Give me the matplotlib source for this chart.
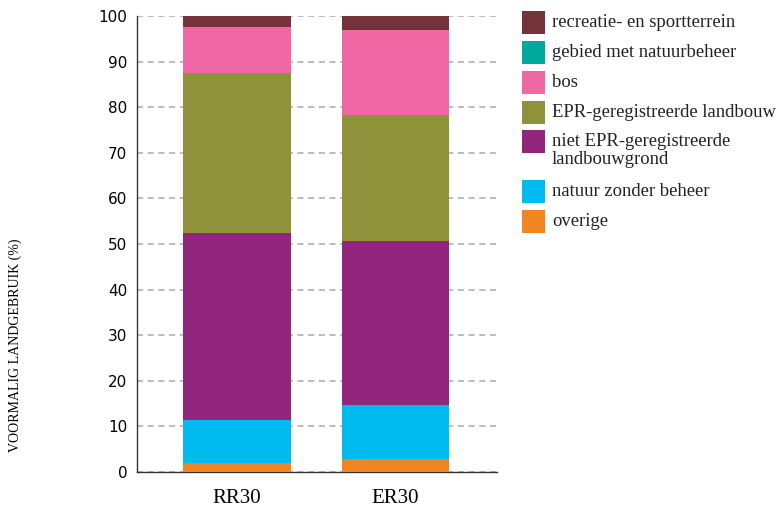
import matplotlib.pyplot as plt
from matplotlib.patches import Rectangle
import numpy as np

# data (percent of former land use)
categories = ['RR30', 'ER30']
overige = [2.0, 2.85]
natuur_zonder_beheer = [9.4, 11.85]
niet_epr = [41.0, 36.0]
epr = [35.2, 27.6]
bos = [10.0, 18.6]
natuurbeheer = [0.0, 0.0]
recreatie = [2.4, 3.1]

series = [
    ('overige', overige, '#f28422'),
    ('natuur zonder beheer', natuur_zonder_beheer, '#00bbef'),
    ('niet EPR-geregistreerde\nlandbouwgrond', niet_epr, '#92267c'),
    ('EPR-geregistreerde landbouw', epr, '#8f923b'),
    ('bos', bos, '#ef67a3'),
    ('gebied met natuurbeheer', natuurbeheer, '#00a99d'),
    ('recreatie- en sportterrein', recreatie, '#76323a'),
]

serif = ['Liberation Serif', 'DejaVu Serif']
W, H = 778, 511

fig = plt.figure(figsize=(W / 100, H / 100), dpi=100)
ax = fig.add_axes([137 / W, 39 / H, 360 / W, 456 / H])

x = np.arange(len(categories))
bottom = np.zeros(len(categories))
for name, vals, col in series:
    ax.bar(x, vals, 0.68, bottom=bottom, color=col, label=name, zorder=3)
    bottom += np.array(vals)

ax.set_xlim(-0.631, 1.640)
ax.set_ylim(0, 100)
ax.set_yticks(range(0, 101, 10))
ax.yaxis.grid(True, linestyle=(0, (4, 3)), color='#aaaaaa', linewidth=1.1, zorder=0)
ax.set_axisbelow(True)
ax.set_xticks(x)
ax.set_xticklabels(categories, fontsize=15, family=serif)
ax.tick_params(axis='x', length=0, pad=12)
ax.tick_params(axis='y', length=0, pad=7, labelsize=11)
for lbl in ax.get_yticklabels():
    lbl.set_family('DejaVu Sans')

for s in ['top', 'right']:
    ax.spines[s].set_visible(False)
for s in ['left', 'bottom']:
    ax.spines[s].set_color('#333333')
    ax.spines[s].set_linewidth(1.0)

fig.text(15 / W, 1 - 345 / H, 'VOORMALIG LANDGEBRUIK (%)', rotation=90,
         ha='center', va='center', fontsize=10, family=serif)

# legend drawn by hand so the two-line entry lines up like the original
leg_tops = [11, 41, 71, 101, 130, 180, 210]  # pixel tops, legend order
box = 23
for top, (name, vals, col) in zip(leg_tops, series[::-1]):
    fig.add_artist(Rectangle((522 / W, 1 - (top + box) / H), box / W, box / H,
                             transform=fig.transFigure, color=col, lw=0))
    base = top + box / 2 + 4.2
    for i, line in enumerate(name.split('\n')):
        fig.text(552 / W, 1 - (base + i * 18) / H, line, ha='left', va='baseline',
                 fontsize=13.4, family=serif, color='#222222')

fig.savefig('out.png', dpi=100)
